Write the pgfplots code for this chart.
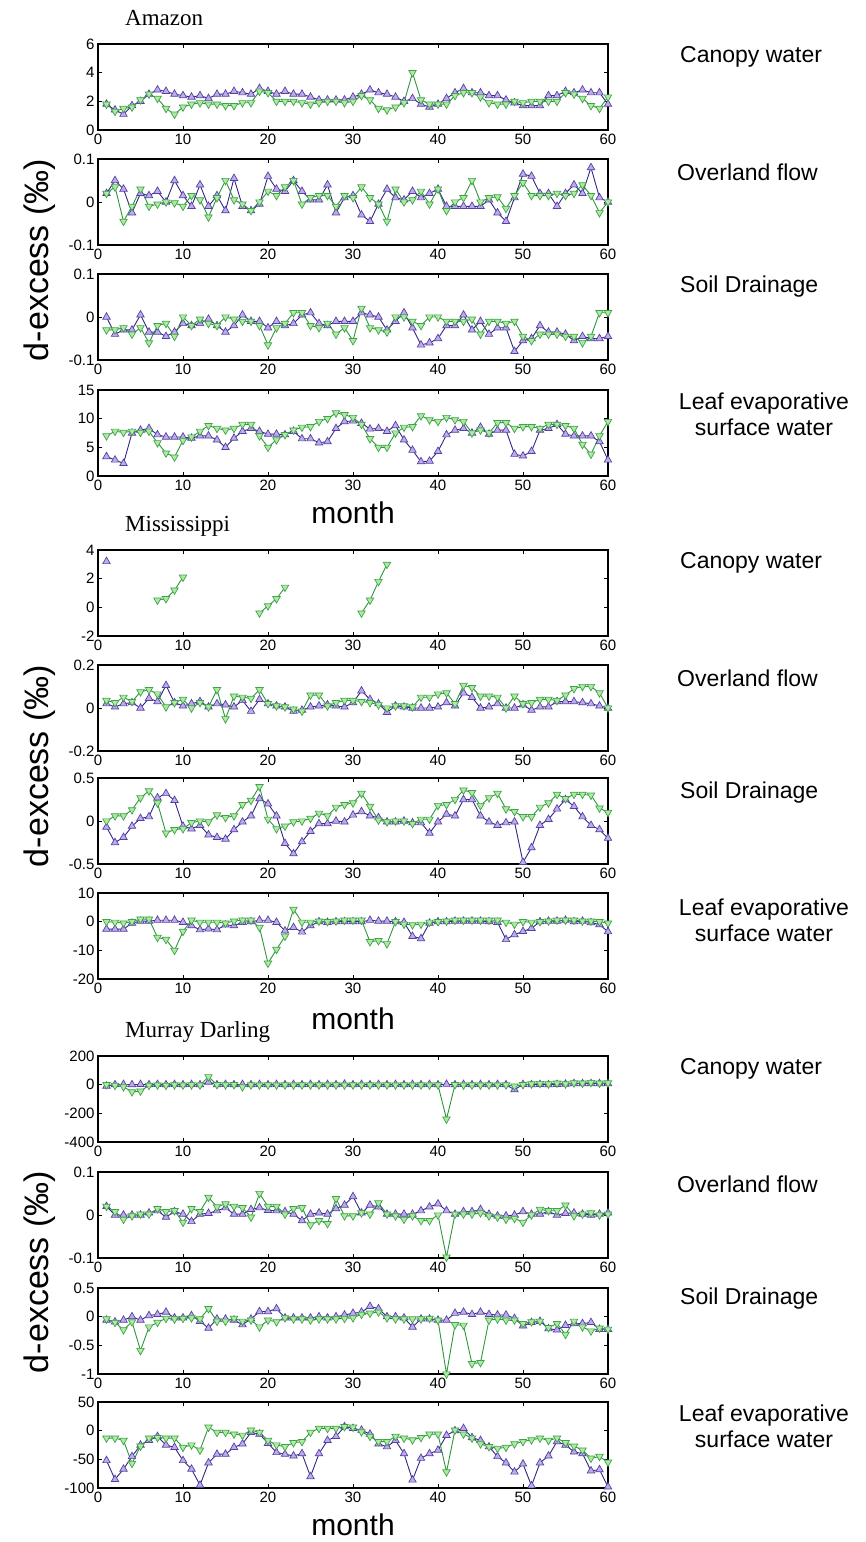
\documentclass[border=0pt]{standalone}
\usepackage{fontspec}
\setmainfont{Liberation Sans}
\newfontfamily\titlefont{Liberation Serif}
\usepackage{pgfplots}
\usepackage{pgfplotstable}
\pgfplotsset{compat=1.18}
\definecolor{pline}{RGB}{50,38,130}
\definecolor{pedge}{RGB}{85,65,165}
\definecolor{pfill}{RGB}{190,172,232}
\definecolor{gline}{RGB}{45,150,60}
\definecolor{gedge}{RGB}{60,165,70}
\definecolor{gfill}{RGB}{178,232,165}
\pgfplotsset{
 panel/.style={scale only axis, width=510pt, height=86pt, anchor=north west,
  xmin=0, xmax=60, xtick={0,10,20,30,40,50,60}, xticklabels={0,10,20,30,40,50,60},
  tick align=inside, tick pos=both, major tick length=4pt,
  axis line style={line width=1.3pt}, tick style={line width=0.8pt, black},
  ticklabel style={font=\fontsize{15pt}{15pt}\selectfont},
  unbounded coords=jump, clip=false},
 pser/.style={color=pline, line width=0.9pt, mark=triangle*, mark size=4.3pt,
  mark options={fill=pfill, draw=pedge, line width=0.7pt}},
 gser/.style={color=gline, line width=0.9pt, mark=triangle*, mark size=4.3pt,
  mark options={rotate=180, fill=gfill, draw=gedge, line width=0.7pt}},
}
% Amazon
\pgfplotstableread[row sep=\\]{m p g\\
1 1.8 1.8\\ 2 1.4 1.3\\ 3 1.1 1.5\\ 4 1.7 1.6\\ 5 2.0 2.1\\ 6 2.5 2.5\\ 7 2.8 2.2\\ 8 2.7 1.5\\ 9 2.5 1.1\\ 10 2.4 1.6\\
11 2.3 1.8\\ 12 2.4 1.9\\ 13 2.2 1.8\\ 14 2.5 1.8\\ 15 2.5 1.7\\ 16 2.7 1.7\\ 17 2.6 1.9\\ 18 2.5 1.9\\ 19 2.9 2.7\\ 20 2.7 2.6\\
21 2.5 2.0\\ 22 2.7 2.0\\ 23 2.5 2.0\\ 24 2.5 1.9\\ 25 2.3 1.8\\ 26 2.1 1.9\\ 27 2.1 2.0\\ 28 2.1 2.0\\ 29 2.1 1.9\\ 30 2.3 2.0\\
31 2.5 2.4\\ 32 2.8 2.1\\ 33 2.6 1.5\\ 34 2.5 1.4\\ 35 2.3 1.6\\ 36 2.0 1.9\\ 37 2.2 4.0\\ 38 1.8 2.1\\ 39 1.6 1.8\\ 40 1.8 1.8\\
41 2.2 1.8\\ 42 2.6 2.4\\ 43 2.9 2.6\\ 44 2.6 2.6\\ 45 2.6 2.3\\ 46 2.4 1.9\\ 47 2.4 1.8\\ 48 2.1 1.8\\ 49 1.9 2.0\\ 50 1.7 1.9\\
51 1.7 2.0\\ 52 1.7 2.0\\ 53 2.4 2.0\\ 54 2.4 2.0\\ 55 2.7 2.6\\ 56 2.6 2.5\\ 57 2.8 2.2\\ 58 2.6 1.7\\ 59 2.6 1.5\\ 60 1.8 2.3\\
}\tAa
\pgfplotstableread[row sep=\\]{m p g\\
1 0.02 0.02\\ 2 0.05 0.035\\ 3 0.03 -0.045\\ 4 -0.025 -0.01\\ 5 0.02 0.03\\ 6 0.015 -0.01\\ 7 0.025 -0.005\\ 8 0 0\\ 9 0.05 -0.002\\ 10 0.015 -0.01\\
11 -0.01 0.015\\ 12 0.04 0.005\\ 13 -0.01 -0.035\\ 14 0.015 0.01\\ 15 -0.02 0.05\\ 16 0.055 0.005\\ 17 -0.01 -0.005\\ 18 -0.02 -0.02\\ 19 -0.005 0\\ 20 0.06 0.025\\
21 0.03 0.015\\ 22 0.025 0.035\\ 23 0.05 0.05\\ 24 0.025 -0.005\\ 25 0.005 0.01\\ 26 0.005 0.015\\ 27 0.04 0.015\\ 28 -0.025 -0.01\\ 29 0.01 0.015\\ 30 0.015 0.01\\
31 -0.03 0.035\\ 32 -0.045 0.01\\ 33 -0.005 -0.005\\ 34 0.03 -0.045\\ 35 0.01 0.03\\ 36 0.005 0\\ 37 0.025 0.005\\ 38 0.01 0.025\\ 39 0.02 -0.005\\ 40 0.03 0.03\\
41 -0.01 -0.02\\ 42 -0.01 0\\ 43 -0.01 0.01\\ 44 -0.01 0.05\\ 45 -0.01 0\\ 46 0.005 0.01\\ 47 -0.025 0.012\\ 48 -0.045 -0.015\\ 49 0.01 0.015\\ 50 0.065 0.045\\
51 0.06 0.015\\ 52 0.02 0.015\\ 53 0.02 0.015\\ 54 -0.01 0.02\\ 55 0.02 0.015\\ 56 0.04 0.02\\ 57 0.02 0.04\\ 58 0.08 0.015\\ 59 0.01 -0.025\\ 60 0 0\\
}\tAb
\pgfplotstableread[row sep=\\]{m p g\\
1 0.0 -0.03\\ 2 -0.04 -0.03\\ 3 -0.03 -0.025\\ 4 -0.03 -0.04\\ 5 0.005 -0.025\\ 6 -0.035 -0.06\\ 7 -0.035 -0.02\\ 8 -0.045 -0.015\\ 9 -0.035 -0.045\\ 10 -0.015 0.0\\
11 -0.02 -0.02\\ 12 -0.015 -0.005\\ 13 -0.005 -0.015\\ 14 -0.02 -0.02\\ 15 -0.035 0.0\\ 16 -0.02 -0.005\\ 17 0.005 -0.01\\ 18 -0.01 -0.01\\ 19 -0.01 -0.02\\ 20 -0.025 -0.065\\
21 -0.01 -0.025\\ 22 -0.02 -0.015\\ 23 -0.015 0.01\\ 24 0.005 0.01\\ 25 0.01 -0.02\\ 26 -0.015 -0.025\\ 27 -0.02 -0.015\\ 28 -0.01 -0.04\\ 29 -0.01 -0.025\\ 30 -0.01 -0.055\\
31 0.01 0.02\\ 32 0.005 -0.025\\ 33 0.0 -0.03\\ 34 -0.03 -0.035\\ 35 -0.01 0.0\\ 36 0.01 0.0\\ 37 -0.025 -0.01\\ 38 -0.065 -0.02\\ 39 -0.06 0.0\\ 40 -0.05 0.0\\
41 -0.02 -0.01\\ 42 -0.02 -0.01\\ 43 0.005 -0.01\\ 44 -0.03 -0.005\\ 45 -0.01 -0.04\\ 46 -0.04 -0.01\\ 47 -0.025 -0.01\\ 48 -0.025 -0.015\\ 49 -0.08 -0.01\\ 50 -0.055 -0.045\\
51 -0.05 -0.055\\ 52 -0.02 -0.04\\ 53 -0.035 -0.04\\ 54 -0.035 -0.04\\ 55 -0.04 -0.045\\ 56 -0.055 -0.045\\ 57 -0.045 -0.06\\ 58 -0.05 -0.045\\ 59 -0.05 0.01\\ 60 -0.045 0.01\\
}\tAc
\pgfplotstableread[row sep=\\]{m p g\\
1 3.4 7.0\\ 2 2.8 7.8\\ 3 2.2 7.6\\ 4 7.5 7.8\\ 5 8.0 7.6\\ 6 8.3 7.8\\ 7 7.2 5.8\\ 8 6.8 4.0\\ 9 6.8 3.3\\ 10 6.8 6.2\\
11 6.6 6.8\\ 12 7.0 7.8\\ 13 7.0 8.8\\ 14 6.3 8.3\\ 15 5.0 8.0\\ 16 6.6 8.3\\ 17 7.8 9.0\\ 18 8.3 9.0\\ 19 7.8 7.0\\ 20 7.3 5.0\\
21 7.3 6.3\\ 22 7.2 7.2\\ 23 7.8 8.0\\ 24 6.5 8.5\\ 25 6.5 8.6\\ 26 5.8 9.5\\ 27 6.0 10.0\\ 28 8.3 11.0\\ 29 9.5 10.7\\ 30 9.6 10.2\\
31 9.2 9.0\\ 32 8.2 6.5\\ 33 8.3 5.0\\ 34 7.8 5.0\\ 35 8.8 7.5\\ 36 6.3 8.5\\ 37 4.5 8.6\\ 38 2.5 10.5\\ 39 2.6 9.8\\ 40 4.3 9.5\\
41 7.2 10.2\\ 42 8.0 9.8\\ 43 8.3 9.5\\ 44 7.5 7.5\\ 45 8.5 8.0\\ 46 7.3 7.5\\ 47 8.0 9.3\\ 48 8.0 9.3\\ 49 3.8 8.3\\ 50 3.5 8.6\\
51 4.3 8.6\\ 52 8.0 8.3\\ 53 8.3 9.0\\ 54 9.0 9.0\\ 55 7.3 8.8\\ 56 7.0 8.3\\ 57 7.0 5.5\\ 58 7.0 3.8\\ 59 6.0 7.0\\ 60 2.8 9.5\\
}\tAd
% Mississippi
\pgfplotstableread[row sep=\\]{m p g\\
1 0.02 0.035\\ 2 0.005 0.025\\ 3 0.02 0.05\\ 4 0.025 0.03\\ 5 0.0 0.075\\ 6 0.045 0.085\\ 7 0.03 0.065\\ 8 0.105 0.005\\ 9 0.025 0.025\\ 10 0.01 0.04\\
11 0.02 0.0\\ 12 0.03 0.025\\ 13 0.005 0.005\\ 14 0.02 0.085\\ 15 0.015 -0.05\\ 16 0.005 0.055\\ 17 0.035 0.05\\ 18 -0.015 0.045\\ 19 0.04 0.085\\ 20 0.02 0.02\\
21 0.01 0.01\\ 22 0.005 0.005\\ 23 -0.015 -0.005\\ 24 -0.01 -0.015\\ 25 0.005 0.06\\ 26 0.01 0.06\\ 27 0.015 0.01\\ 28 0.01 0.025\\ 29 0.005 0.035\\ 30 0.025 0.035\\
31 0.08 0.03\\ 32 0.04 0.025\\ 33 0.02 0.015\\ 34 -0.02 0.0\\ 35 0.01 0.01\\ 36 0.005 0.01\\ 37 0.0 0.005\\ 38 0.0 0.05\\ 39 0.0 0.05\\ 40 0.005 0.065\\
41 0.025 0.07\\ 42 0.01 0.02\\ 43 0.07 0.105\\ 44 0.05 0.095\\ 45 0.0 0.055\\ 46 0.005 0.055\\ 47 0.02 0.05\\ 48 0.0 0.0\\ 49 0.0 0.055\\ 50 0.015 0.02\\
51 -0.01 0.025\\ 52 0.005 0.04\\ 53 0.005 0.04\\ 54 0.03 0.035\\ 55 0.03 0.06\\ 56 0.03 0.09\\ 57 0.025 0.1\\ 58 0.02 0.1\\ 59 0.01 0.07\\ 60 0.0 0.0\\
}\tMb
\pgfplotstableread[row sep=\\]{m p g\\
1 -0.07 0.0\\ 2 -0.25 0.06\\ 3 -0.19 0.06\\ 4 -0.06 0.13\\ 5 0.03 0.27\\ 6 0.05 0.35\\ 7 0.27 0.21\\ 8 0.32 -0.14\\ 9 0.24 -0.1\\ 10 -0.06 -0.09\\
11 -0.09 -0.02\\ 12 -0.05 0.0\\ 13 -0.16 -0.01\\ 14 -0.19 0.07\\ 15 -0.21 0.04\\ 16 -0.1 0.06\\ 17 -0.01 0.19\\ 18 0.06 0.24\\ 19 0.26 0.4\\ 20 0.2 0.02\\
21 0.06 -0.09\\ 22 -0.26 -0.06\\ 23 -0.38 -0.01\\ 24 -0.24 0.0\\ 25 -0.12 0.03\\ 26 -0.03 0.09\\ 27 -0.03 0.06\\ 28 0.0 0.16\\ 29 -0.01 0.19\\ 30 0.07 0.21\\
31 0.11 0.32\\ 32 0.06 0.17\\ 33 0.04 0.01\\ 34 -0.01 -0.01\\ 35 -0.01 0.0\\ 36 0.0 0.0\\ 37 -0.02 -0.03\\ 38 -0.02 0.02\\ 39 -0.14 0.02\\ 40 -0.01 0.18\\
41 0.08 0.19\\ 42 0.06 0.25\\ 43 0.25 0.36\\ 44 0.25 0.33\\ 45 0.06 0.18\\ 46 -0.01 0.27\\ 47 -0.05 0.32\\ 48 -0.02 0.14\\ 49 -0.01 0.11\\ 50 -0.48 0.05\\
51 -0.31 0.05\\ 52 -0.05 0.16\\ 53 0.02 0.21\\ 54 0.14 0.31\\ 55 0.25 0.26\\ 56 0.17 0.31\\ 57 0.05 0.31\\ 58 -0.05 0.3\\ 59 -0.1 0.15\\ 60 -0.2 0.1\\
}\tMc
\pgfplotstableread[row sep=\\]{m p g\\
1 -2.6 0\\ 2 -2.6 -0.2\\ 3 -2.6 -0.5\\ 4 -0.5 0\\ 5 0.2 0.9\\ 6 0.2 0.9\\ 7 0.5 -5.5\\ 8 0.5 -6.2\\ 9 0.5 -10\\ 10 -0.2 -3.4\\
11 -1.4 0.5\\ 12 -2.8 -0.2\\ 13 -2.5 -0.2\\ 14 -2.8 -0.2\\ 15 -1.1 -0.5\\ 16 -1.4 0.2\\ 17 -0.2 0.5\\ 18 0 0.5\\ 19 0.5 -2\\ 20 0.5 -14.5\\
21 -0.2 -9.7\\ 22 -3.2 -5.1\\ 23 -2.0 4.3\\ 24 -3.6 -0.2\\ 25 -1.4 -0.2\\ 26 0 0.2\\ 27 -0.2 0\\ 28 0 0.2\\ 29 0 0.5\\ 30 0 0.5\\
31 0 0.5\\ 32 0.5 -7\\ 33 0.2 -6.6\\ 34 0.2 -7.7\\ 35 0 0\\ 36 -0.2 -0.9\\ 37 -5.1 -1.1\\ 38 -5.9 -0.9\\ 39 -0.5 -0.2\\ 40 0 0\\
41 0 0.2\\ 42 0.2 0.5\\ 43 0.2 0.5\\ 44 0.2 0.5\\ 45 0.2 0.5\\ 46 0 0.5\\ 47 -0.2 0.5\\ 48 -6.2 -0.2\\ 49 -4.5 -0.9\\ 50 -3.4 0\\
51 -2.3 -0.2\\ 52 0 0\\ 53 0.2 0.2\\ 54 0.2 0.5\\ 55 0.5 0.5\\ 56 0 0.5\\ 57 0.2 0.2\\ 58 -0.3 0.2\\ 59 -1.0 0\\ 60 -3.5 -0.5\\
}\tMd
% Murray Darling
\pgfplotstableread[row sep=\\]{m p g\\
1 -10 0\\ 2 0 -5\\ 3 2 -15\\ 4 0 -50\\ 5 2 -45\\ 6 0 -5\\ 7 2 -3\\ 8 0 -5\\ 9 2 -2\\ 10 0 -3\\
11 2 -2\\ 12 0 -3\\ 13 18 55\\ 14 0 0\\ 15 2 -2\\ 16 0 0\\ 17 2 -15\\ 18 0 -2\\ 19 2 -3\\ 20 0 -2\\
21 2 -3\\ 22 0 -2\\ 23 2 -3\\ 24 0 -2\\ 25 2 -3\\ 26 0 -2\\ 27 2 -3\\ 28 0 -2\\ 29 4 -3\\ 30 0 -2\\
31 2 -3\\ 32 0 -2\\ 33 2 -3\\ 34 0 -2\\ 35 2 -3\\ 36 0 -2\\ 37 2 -3\\ 38 0 -2\\ 39 2 -3\\ 40 0 -2\\
41 3 -240\\ 42 0 0\\ 43 2 -3\\ 44 0 -2\\ 45 2 -3\\ 46 0 -2\\ 47 2 -3\\ 48 0 -2\\ 49 -35 -10\\ 50 2 0\\
51 0 5\\ 52 2 8\\ 53 0 5\\ 54 2 10\\ 55 4 5\\ 56 8 12\\ 57 8 10\\ 58 8 15\\ 59 8 10\\ 60 8 12\\
}\tDa
\pgfplotstableread[row sep=\\]{m p g\\
1 0.02 0.02\\ 2 0.0 0.008\\ 3 0.0 -0.01\\ 4 0.0 -0.002\\ 5 0.0 0.002\\ 6 0.005 0.002\\ 7 0.01 0.015\\ 8 -0.005 0.008\\ 9 0.008 0.01\\ 10 0.002 -0.017\\
11 -0.015 0.015\\ 12 0.002 0.008\\ 13 0.004 0.041\\ 14 0.01 0.019\\ 15 0.017 0.026\\ 16 0.002 0.02\\ 17 0.002 0.017\\ 18 0.013 -0.005\\ 19 0.017 0.05\\ 20 0.011 0.02\\
21 0.01 0.02\\ 22 0.008 0.002\\ 23 0.002 0.015\\ 24 -0.013 0.017\\ 25 0.002 -0.023\\ 26 0.005 -0.013\\ 27 0.002 -0.02\\ 28 0.015 0.038\\ 29 0.023 -0.002\\ 30 0.043 -0.002\\
31 0.005 0.005\\ 32 0.023 0.002\\ 33 0.019 0.028\\ 34 0.002 0.002\\ 35 0.002 -0.002\\ 36 0.002 -0.01\\ 37 0.002 -0.002\\ 38 0.01 -0.013\\ 39 0.019 -0.013\\ 40 0.026 0.0\\
41 0.01 -0.098\\ 42 0.002 0.002\\ 43 0.008 0.002\\ 44 0.008 0.002\\ 45 0.013 0.005\\ 46 0.002 -0.002\\ 47 -0.002 -0.005\\ 48 -0.002 -0.01\\ 49 0.0 -0.008\\ 50 0.008 -0.017\\
51 0.002 0.0\\ 52 0.002 0.013\\ 53 0.008 0.01\\ 54 0.0 0.01\\ 55 0.004 0.023\\ 56 0.005 -0.002\\ 57 0.002 0.002\\ 58 0.0 0.005\\ 59 0.002 0.0\\ 60 0.005 0.002\\
}\tDb
\pgfplotstableread[row sep=\\]{m p g\\
1 -0.06 -0.04\\ 2 -0.09 -0.1\\ 3 -0.06 -0.23\\ 4 0 -0.09\\ 5 -0.06 -0.59\\ 6 0.02 -0.18\\ 7 0.04 -0.1\\ 8 0.08 -0.03\\ 9 -0.02 -0.04\\ 10 -0.02 -0.03\\
11 0.02 -0.02\\ 12 -0.08 -0.04\\ 13 -0.2 0.14\\ 14 -0.04 -0.08\\ 15 -0.04 -0.08\\ 16 -0.06 -0.03\\ 17 -0.14 -0.08\\ 18 -0.04 -0.06\\ 19 0.09 -0.18\\ 20 0.09 -0.06\\
21 0.14 -0.09\\ 22 -0.02 -0.02\\ 23 -0.02 -0.04\\ 24 -0.02 -0.04\\ 25 -0.02 -0.06\\ 26 0 -0.04\\ 27 -0.02 -0.04\\ 28 0 -0.04\\ 29 0.03 -0.03\\ 30 0.06 -0.02\\
31 0.08 0.04\\ 32 0.18 0.06\\ 33 0.14 0.08\\ 34 0 -0.02\\ 35 0 -0.04\\ 36 -0.02 -0.04\\ 37 -0.18 -0.04\\ 38 -0.04 -0.04\\ 39 -0.04 -0.03\\ 40 -0.06 -0.06\\
41 -0.06 -1.0\\ 42 0.06 -0.14\\ 43 0.08 -0.15\\ 44 0.04 -0.82\\ 45 0.08 -0.8\\ 46 0.04 -0.06\\ 47 0.03 -0.04\\ 48 0.03 -0.06\\ 49 -0.03 -0.06\\ 50 -0.16 -0.12\\
51 -0.1 -0.09\\ 52 -0.08 -0.08\\ 53 -0.21 -0.19\\ 54 -0.23 -0.12\\ 55 -0.15 -0.31\\ 56 -0.12 -0.08\\ 57 -0.12 -0.18\\ 58 -0.1 -0.25\\ 59 -0.22 -0.2\\ 60 -0.22 -0.22\\
}\tDc
\pgfplotstableread[row sep=\\]{m p g\\
1 -52 -13\\ 2 -85 -13\\ 3 -67 -17\\ 4 -45 -57\\ 5 -25 -27\\ 6 -17 -13\\ 7 -10 -12\\ 8 -25 -13\\ 9 -29 -13\\ 10 -52 -29\\
11 -67 -25\\ 12 -95 -34\\ 13 -56 6\\ 14 -41 -3\\ 15 -41 -3\\ 16 -29 -6\\ 17 -23 -8\\ 18 -3 1\\ 19 -6 -3\\ 20 -22 -17\\
21 -38 -25\\ 22 -41 -28\\ 23 -44 -21\\ 24 -40 -19\\ 25 -80 -3\\ 26 -40 4\\ 27 -17 4\\ 28 -10 4\\ 29 7 7\\ 30 4 6\\
31 1 -2\\ 32 -6 -10\\ 33 -23 -19\\ 34 -28 -19\\ 35 -17 -10\\ 36 -40 -13\\ 37 -86 -16\\ 38 -48 -12\\ 39 -40 -6\\ 40 -34 -6\\
41 -8 -72\\ 42 0 1\\ 43 4 -6\\ 44 -12 -13\\ 45 -17 -23\\ 46 -28 -28\\ 47 -45 -31\\ 48 -56 -29\\ 49 -72 -23\\ 50 -58 -19\\
51 -96 -16\\ 52 -56 -13\\ 53 -44 -17\\ 54 -19 -13\\ 55 -25 -21\\ 56 -37 -27\\ 57 -40 -34\\ 58 -70 -48\\ 59 -68 -45\\ 60 -98 -55\\
}\tDd
\newcommand{\labfont}{\fontsize{23pt}{26pt}\selectfont}
\begin{document}
\begin{tikzpicture}
\useasboundingbox (0,0) rectangle (865pt,-1542pt);
% ---------- Amazon
\begin{axis}[panel, at={(98pt,-44pt)}, ymin=0, ymax=6, ytick={0,2,4,6}, yticklabels={0,2,4,6}]
\addplot[pser] table[x=m,y=p]{\tAa};
\addplot[gser] table[x=m,y=g]{\tAa};
\end{axis}
\begin{axis}[panel, at={(98pt,-159pt)}, ymin=-0.1, ymax=0.1, ytick={-0.1,0,0.1}, yticklabels={-0.1,0,0.1}]
\addplot[pser] table[x=m,y=p]{\tAb};
\addplot[gser] table[x=m,y=g]{\tAb};
\end{axis}
\begin{axis}[panel, at={(98pt,-274pt)}, ymin=-0.1, ymax=0.1, ytick={-0.1,0,0.1}, yticklabels={-0.1,0,0.1}]
\addplot[pser] table[x=m,y=p]{\tAc};
\addplot[gser] table[x=m,y=g]{\tAc};
\end{axis}
\begin{axis}[panel, at={(98pt,-390pt)}, ymin=0, ymax=15, ytick={0,5,10,15}, yticklabels={0,5,10,15}]
\addplot[pser] table[x=m,y=p]{\tAd};
\addplot[gser] table[x=m,y=g]{\tAd};
\end{axis}
% ---------- Mississippi
\begin{axis}[panel, at={(98pt,-550pt)}, ymin=-2, ymax=4, ytick={-2,0,2,4}, yticklabels={-2,0,2,4}]
\addplot[pser] coordinates {(1,3.2)};
\addplot[gser] coordinates {(7,0.5) (8,0.6) (9,1.2) (10,2.1) (11,nan) (19,-0.4) (20,0.1) (21,0.6) (22,1.4) (23,nan) (31,-0.4) (32,0.5) (33,1.8) (34,3.0)};
\end{axis}
\begin{axis}[panel, at={(98pt,-665pt)}, ymin=-0.2, ymax=0.2, ytick={-0.2,0,0.2}, yticklabels={-0.2,0,0.2}]
\addplot[pser] table[x=m,y=p]{\tMb};
\addplot[gser] table[x=m,y=g]{\tMb};
\end{axis}
\begin{axis}[panel, at={(98pt,-778pt)}, ymin=-0.5, ymax=0.5, ytick={-0.5,0,0.5}, yticklabels={-0.5,0,0.5}]
\addplot[pser] table[x=m,y=p]{\tMc};
\addplot[gser] table[x=m,y=g]{\tMc};
\end{axis}
\begin{axis}[panel, at={(98pt,-893pt)}, ymin=-20, ymax=10, ytick={-20,-10,0,10}, yticklabels={-20,-10,0,10}]
\addplot[pser] table[x=m,y=p]{\tMd};
\addplot[gser] table[x=m,y=g]{\tMd};
\end{axis}
% ---------- Murray Darling
\begin{axis}[panel, at={(98pt,-1056pt)}, ymin=-400, ymax=200, ytick={-400,-200,0,200}, yticklabels={-400,-200,0,200}]
\addplot[pser] table[x=m,y=p]{\tDa};
\addplot[gser] table[x=m,y=g]{\tDa};
\end{axis}
\begin{axis}[panel, at={(98pt,-1172pt)}, ymin=-0.1, ymax=0.1, ytick={-0.1,0,0.1}, yticklabels={-0.1,0,0.1}]
\addplot[pser] table[x=m,y=p]{\tDb};
\addplot[gser] table[x=m,y=g]{\tDb};
\end{axis}
\begin{axis}[panel, at={(98pt,-1288pt)}, ymin=-1, ymax=0.5, ytick={-1,-0.5,0,0.5}, yticklabels={-1,-0.5,0,0.5}]
\addplot[pser] table[x=m,y=p]{\tDc};
\addplot[gser] table[x=m,y=g]{\tDc};
\end{axis}
\begin{axis}[panel, at={(98pt,-1402pt)}, ymin=-100, ymax=50, ytick={-100,-50,0,50}, yticklabels={-100,-50,0,50}]
\addplot[pser] table[x=m,y=p]{\tDd};
\addplot[gser] table[x=m,y=g]{\tDd};
\end{axis}
% ---------- text
\foreach \t/\yb in {Amazon/25, Mississippi/531, Murray Darling/1037}
  \node[anchor=base west, font=\titlefont\fontsize{23pt}{23pt}\selectfont, inner sep=0pt] at (125pt,-\yb pt) {\t};
\foreach \yc in {260,766,1272}
  \node[rotate=90, font=\fontsize{34pt}{34pt}\selectfont, inner sep=0pt] at (40pt,-\yc pt) {d-excess (‰)};
\foreach \yb in {523,1029,1535}
  \node[anchor=base, font=\fontsize{30pt}{30pt}\selectfont, inner sep=0pt] at (353pt,-\yb pt) {month};
\foreach \top in {44,550,1056}{
  \node[anchor=west, font=\labfont, inner sep=0pt] at (680pt,-\top pt-13pt) {Canopy water};
  \node[anchor=west, font=\labfont, inner sep=0pt] at (677pt,-\top pt-128pt) {Overland flow};
  \node[anchor=west, font=\labfont, inner sep=0pt] at (680pt,-\top pt-243pt) {Soil Drainage};
  \node[anchor=north, align=center, font=\labfont, inner sep=0pt] at (764pt,-\top pt-349pt) {Leaf evaporative\\surface water};
}
\end{tikzpicture}
\end{document}
